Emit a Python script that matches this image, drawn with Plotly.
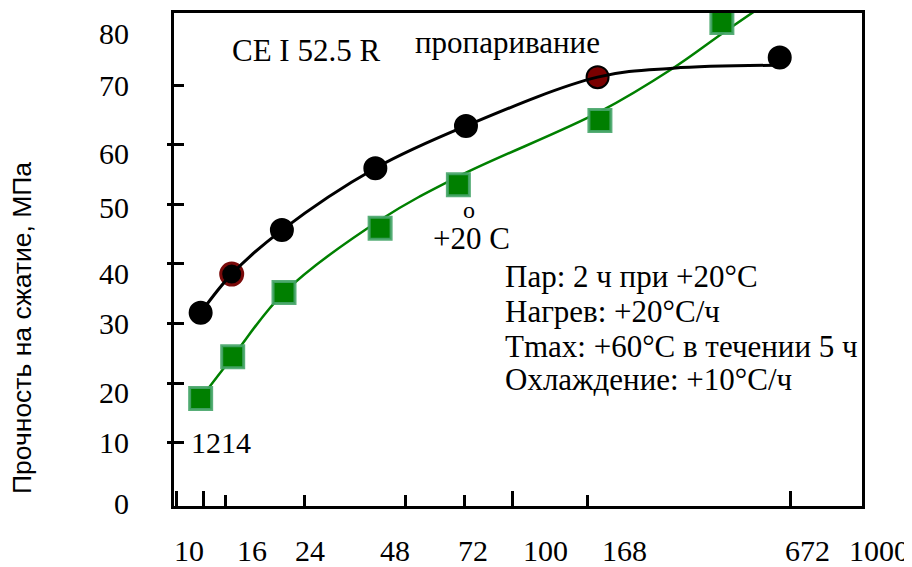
import plotly.graph_objects as go

# ---- data (hours, MPa) ----
hours_steam = [11.8, 14.6, 20.6, 39.1, 72.8, 179.5, 626]
strength_steam = [31.8, 38.3, 45.7, 56.1, 63.2, 71.4, 74.7]

hours_20c = [11.8, 14.7, 20.9, 40.4, 69.1, 182.4, 421]
strength_20c = [17.4, 24.4, 35.2, 46.0, 53.3, 64.1, 80.6]

# smooth trend curves as drawn in the picture
curve_steam_h = [11.8, 14.6, 20.6, 39.1, 72.8, 179.5, 301, 604]
curve_steam_v = [31.8, 38.3, 45.7, 56.1, 63.2, 71.4, 72.9, 73.4]

curve_20c_h = [11.8, 14.7, 20.9, 40.4, 69.1, 182.4, 301, 421, 584]
curve_20c_v = [17.4, 24.4, 35.2, 47.4, 54.7, 65.6, 72.9, 78.7, 84.2]

# axis ticks and labels as printed
x_major_marks = [10, 12, 100, 672]
x_minor_marks = [14, 24, 48, 72, 168]
x_tick_labels = ["10", "16", "24", "48", "72", "100", "168", "672", "1000"]
y_tick_marks = [10, 20, 30, 40, 50, 60, 70]
y_tick_labels = ["80", "70", "60", "50", "40", "30", "20", "10", "0"]

# where the hand-placed labels sit on screen (layout only)
x_label_px = [189, 252, 310, 395, 473, 545, 624, 807, 879]
y_label_py = [33, 85, 153, 207, 273, 323, 392, 442, 503]

SERIF = "Liberation Serif, Times New Roman, serif"
SANS = "Liberation Sans, Arial, sans-serif"

# the page body adds an 8px offset; plot area on screen: x 174..862, y 13..506
OFF = 8
W, H = 912 - OFF, 567 - OFF
L, T = 174 - OFF, 13 - OFF
PW, PH = 688, 493
R, B = W - L - PW, H - T - PH


def paper(xp, yp):
    return (xp - 174) / PW, (506 - yp) / PH


fig = go.Figure()

fig.add_trace(go.Scatter(
    x=curve_20c_h, y=curve_20c_v, mode="lines",
    line=dict(color="#008000", width=2.5, shape="spline"),
    hoverinfo="skip", showlegend=False))
fig.add_trace(go.Scatter(
    x=hours_20c, y=strength_20c, mode="markers",
    marker=dict(symbol="square", size=22, color="#007f00",
                line=dict(color="rgba(70,165,105,0.9)", width=3)),
    showlegend=False))

n = len(hours_steam)
fill = ["black"] * n
edge = ["black"] * n
edge_w = [2] * n
edge[1] = "#7a0a0a"
edge_w[1] = 3
fill[5] = "#7a0000"

fig.add_trace(go.Scatter(
    x=hours_steam, y=strength_steam, mode="markers",
    marker=dict(symbol="circle", size=22, color=fill,
                line=dict(color=edge, width=edge_w)),
    showlegend=False))
fig.add_trace(go.Scatter(
    x=curve_steam_h, y=curve_steam_v, mode="lines",
    line=dict(color="black", width=3, shape="spline"),
    hoverinfo="skip", showlegend=False))

ann = []


def text(t, xp, yp, size=31, xanchor="center", family=SERIF, angle=0):
    px_, py_ = paper(xp, yp)
    ann.append(dict(text=t, x=px_, y=py_, xref="paper", yref="paper",
                    xanchor=xanchor, yanchor="middle", showarrow=False,
                    textangle=angle,
                    font=dict(family=family, size=size, color="black")))


for lab, xp in zip(x_tick_labels, x_label_px):
    text(lab, xp, 550, size=30)
for lab, yp in zip(y_tick_labels, y_label_py):
    text(lab, 131, yp, size=30, xanchor="right")

text("CE I 52.5 R", 306, 50)
text("пропаривание", 507, 43)
text("+20 C", 431, 238.5, xanchor="left")
text("o", 469, 210, size=24)
text("Пар: 2 ч при +20°C", 503, 276.7, xanchor="left")
text("Нагрев: +20°C/ч", 503, 311.7, xanchor="left")
text("Tmax: +60°C в течении 5 ч", 503, 346.7, xanchor="left")
text("Охлаждение: +10°C/ч", 503, 380, xanchor="left")
text("1214", 189, 442, xanchor="left", size=30)
text("Прочность на сжатие, МПа", 22, 328, size=26.5, family=SANS, angle=-90)

fig.update_layout(
    width=W, height=H,
    margin=dict(l=L, r=R, t=T, b=B, pad=0),
    paper_bgcolor="white", plot_bgcolor="white",
    annotations=ann,
    xaxis=dict(
        type="log", range=[0.9925, 3.0416], automargin=False,
        tickmode="array", tickvals=x_major_marks, showticklabels=False,
        ticks="inside", ticklen=15, tickwidth=2.5, tickcolor="black",
        showline=True, linecolor="black", linewidth=3, mirror=True,
        showgrid=False, zeroline=False,
        minor=dict(tickmode="array", tickvals=x_minor_marks, ticks="inside",
                   ticklen=11, tickwidth=2.5, tickcolor="black", showgrid=False),
    ),
    yaxis=dict(
        range=[-0.67, 82.18], automargin=False,
        tickmode="array", tickvals=y_tick_marks, showticklabels=False,
        ticks="inside", ticklen=10, tickwidth=2.5, tickcolor="black",
        showline=True, linecolor="black", linewidth=3, mirror=True,
        showgrid=False, zeroline=False,
        minor=dict(tickmode="array", tickvals=y_tick_marks[:-1], ticks="outside",
                   ticklen=4, tickwidth=2.5, tickcolor="black", showgrid=False),
    ),
)

fig.write_html("out.html")
